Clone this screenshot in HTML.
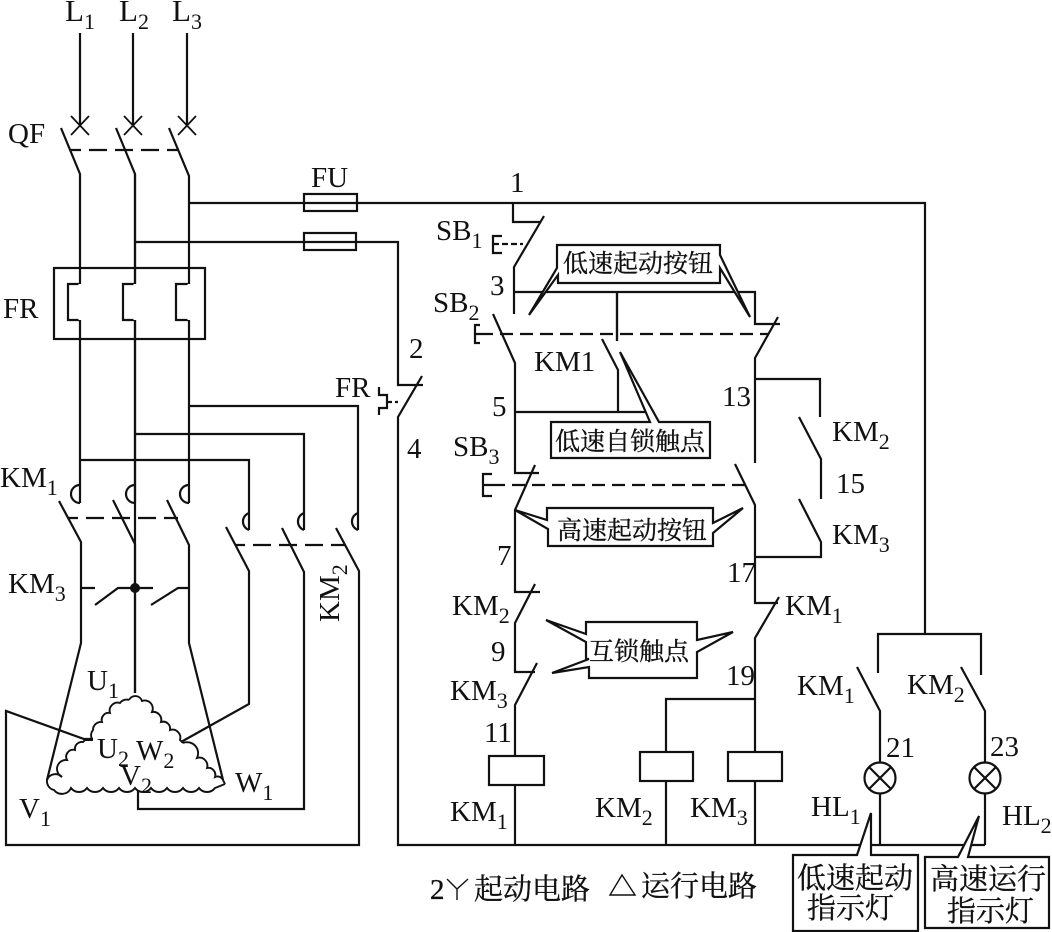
<!DOCTYPE html>
<html><head><meta charset="utf-8"><style>
html,body{margin:0;padding:0;background:#fff}
svg{display:block}
text{font-family:"Liberation Serif","Noto Serif CJK SC",serif;font-size:29px;fill:#111}
.l{font-size:31px}
.s{font-size:22px}
.c{font-family:"Liberation Serif","Noto Serif CJK SC","Noto Sans CJK SC",serif;font-size:25px;stroke:#111;stroke-width:.35px}
.b{font-family:"Liberation Serif","Noto Serif CJK SC","Noto Sans CJK SC",serif;font-size:29px;stroke:#111;stroke-width:.35px}
</style></head><body>
<svg width="1052" height="932" viewBox="0 0 1052 932" xmlns="http://www.w3.org/2000/svg">
<g fill="none" stroke="#111" stroke-width="2.2">
<!-- incoming -->
<path d="M80 33V125M133 33V125M187 33V125"/>
<path d="M71 116L89 135M89 116L71 135M124 116L142 135M142 116L124 135M178 116L196 135M196 116L178 135" stroke-width="1.8"/>
<path d="M61 128L80 174V460M116 128L135 174V693M169 128L189 176V406"/>
<path d="M189 406V503M80 460V503M135 174V503"/>
<path d="M71 150H178" stroke-dasharray="18 8" stroke-dashoffset="8"/>
<!-- fuses & control feed -->
<path d="M189 203H925V634M135 242H398V385H423M422 376L398 417V845H985"/>
<rect x="304" y="194" width="53" height="17"/>
<rect x="304" y="233" width="52" height="17"/>
<!-- FR -->
<rect x="54" y="268" width="151" height="71"/>
<path d="M80 284H68V320H80M135 284H123V320H135M189 284H176V320H189" fill="#fff"/>
<path d="M80 284V320M135 284V320M189 284V320" stroke="#fff" stroke-width="3"/>
<!-- branch to KM2 -->
<path d="M189 406H358V530M135 434H304V530M80 460H249V530"/>
<!-- hooks -->
<path d="M80 485A9 9 0 0 0 80 503M135 485A9 9 0 0 0 135 503M189 485A9 9 0 0 0 189 503M249 513A9 9 0 0 0 249 530M304 513A9 9 0 0 0 304 530M358 513A9 9 0 0 0 358 530"/>
<!-- KM1 / KM2 contacts -->
<path d="M59 501L81 542V643L47 780M113 500L135 544V693M167 500L189 545V643L223 780"/>
<path d="M226 527L249 571V704L181 742M282 528L304 572V809H138V790M336 528L359 571V845H6V711L84 739H93"/>
<path d="M68 518H178M235 545H345" stroke-dasharray="18 8" stroke-dashoffset="8"/>
<!-- KM3 star contact -->
<path d="M81 588H95M95 605L118 588H153M151 605L178 588H189"/>
<!-- motor windings -->
<g stroke-width="1.9">
<path d="M129 700A7 7 0 0 1 142 701A8 8 0 0 1 152 712A8 8 0 0 1 161 722A7 7 0 0 1 170 730A8 8 0 0 1 180 740L183 743"/>
<path d="M183 743A11 11 0 0 1 197 758A8 8 0 0 1 207 768A7 7 0 0 1 215 777A6 6 0 0 1 223 780L225 784"/>
<path d="M225 784L215 788A10 10 0 0 1 199 788A10 10 0 0 1 183 788A10 10 0 0 1 167 788A10 10 0 0 1 151 788A10 10 0 0 1 135 788A10 10 0 0 1 119 788A10 10 0 0 1 103 788A10 10 0 0 1 87 788A10 10 0 0 1 71 788A10 10 0 0 1 54 790A9 9 0 0 1 47 780A9 9 0 0 1 62 777"/>
<path d="M62 777A9 9 0 0 1 67 760A7 7 0 0 1 75 750A7 7 0 0 1 83 742L85 740H93"/>
<path d="M92 739A8 8 0 0 1 93 730A8 8 0 0 1 102 722A7 7 0 0 1 110 713A8 8 0 0 1 120 703A8 8 0 0 1 129 700"/>
</g>
<!-- SB1 -->
<path d="M513 203V222H540M544 216L514 267V314"/>
<path d="M502 236H493V253H502"/>
<path d="M493 244H523" stroke-dasharray="6 3"/>
<!-- horizontal 3 -->
<path d="M514 292H755V324H780M778 317L755 358V463M617 292V341"/>
<path d="M602 339L618 370V412M515 412H645"/>
<path d="M493 314L515 363V473H539M535 465L515 510V592H540M535 584L515 623V672H535M537 663L515 705V755M515 785V845"/>
<path d="M480 325H475V343H480M475 334H480"/>
<path d="M480 334H768" stroke-dasharray="13 7"/>
<path d="M492 474H483V496H492M483 485H492"/>
<path d="M492 485H747" stroke-dasharray="13 7"/>
<path d="M735 464L755 505V603H778M779 597L755 638V752M755 781V845"/>
<!-- KM2/KM3 right -->
<path d="M755 379H820V417M799 417L821 459V499M799 499L821 542V557H755"/>
<!-- coils -->
<rect x="489" y="756" width="55" height="29"/>
<rect x="640" y="752" width="53" height="29"/>
<rect x="728" y="752" width="54" height="29"/>
<path d="M755 699H666V752M666 781V845"/>
<!-- lamps -->
<path d="M878 673V634H981V675M857 667L880 711V763M880 794V845M961 667L985 711V763M985 794V845"/>
<circle cx="880" cy="778" r="15.5"/>
<circle cx="985" cy="778" r="15.5"/>
<path d="M869 767L891 789M891 767L869 789M974 767L996 789M996 767L974 789"/>
<!-- FR thermal contact -->
<path d="M379 387V395H387V408H379V415"/>
<path d="M387 402H398" stroke-dasharray="5 3"/>
<!-- callouts -->
<polygon fill="#fff" points="557,245 720,245 720,255 750,317 720,268 720,283 558,283 558,275 529,315 557,268"/>
<polygon fill="#fff" points="551,422 650,422 620,352 659,422 710,422 710,458 551,458"/>
<polygon fill="#fff" points="547,508 713,508 713,523 743,508 713,533 713,546 548,546 548,529 515,510 547,520"/>
<polygon fill="#fff" points="586,622 697,622 697,640 733,632 697,652 697,678 589,678 589,667 552,673 589,659 586,659 586,642 546,620 586,634"/>
<polygon fill="#fff" points="793,855 857,855 871,813 871,855 918,855 918,931 793,931"/>
<polygon fill="#fff" points="925,857 958,857 979,816 968,857 1049,857 1049,928 925,928"/>
</g>
<path d="M617 292V341" stroke="#111" stroke-width="2.2"/>
<circle cx="135" cy="588" r="5" fill="#111"/>
<!-- labels -->
<text class="l" x="65" y="21">L<tspan class="s" dy="8">1</tspan></text>
<text class="l" x="119" y="21">L<tspan class="s" dy="8">2</tspan></text>
<text class="l" x="172" y="21">L<tspan class="s" dy="8">3</tspan></text>
<text x="8" y="143">QF</text>
<text x="311" y="187">FU</text>
<text x="3" y="318">FR</text>
<text x="335" y="397">FR</text>
<text x="510" y="192">1</text>
<text x="409" y="358">2</text>
<text x="407" y="458">4</text>
<text x="490" y="295">3</text>
<text x="492" y="416">5</text>
<text x="497" y="565">7</text>
<text x="722" y="406">13</text>
<text x="836" y="493">15</text>
<text x="727" y="582">17</text>
<text x="491" y="661">9</text>
<text x="726" y="685">19</text>
<text x="484" y="742">11</text>
<text x="886" y="757">21</text>
<text x="990" y="756">23</text>
<text x="436" y="240">SB<tspan class="s" dy="8">1</tspan></text>
<text x="433" y="312">SB<tspan class="s" dy="8">2</tspan></text>
<text x="453" y="456">SB<tspan class="s" dy="8">3</tspan></text>
<text x="534" y="371">KM1</text>
<text x="832" y="441">KM<tspan class="s" dy="8">2</tspan></text>
<text x="832" y="544">KM<tspan class="s" dy="8">3</tspan></text>
<text x="785" y="615">KM<tspan class="s" dy="8">1</tspan></text>
<text x="452" y="615">KM<tspan class="s" dy="8">2</tspan></text>
<text x="450" y="700">KM<tspan class="s" dy="8">3</tspan></text>
<text x="797" y="695">KM<tspan class="s" dy="8">1</tspan></text>
<text x="907" y="694">KM<tspan class="s" dy="8">2</tspan></text>
<text x="450" y="821">KM<tspan class="s" dy="8">1</tspan></text>
<text x="595" y="817">KM<tspan class="s" dy="8">2</tspan></text>
<text x="690" y="817">KM<tspan class="s" dy="8">3</tspan></text>
<text x="811" y="816">HL<tspan class="s" dy="8">1</tspan></text>
<text x="1002" y="825">HL<tspan class="s" dy="8">2</tspan></text>
<text x="0" y="487">KM<tspan class="s" dy="8">1</tspan></text>
<text x="8" y="593">KM<tspan class="s" dy="8">3</tspan></text>
<text transform="translate(339,622) rotate(-90)">KM<tspan class="s" dy="8">2</tspan></text>
<text x="87" y="690">U<tspan class="s" dy="8">1</tspan></text>
<text x="97" y="758">U<tspan class="s" dy="8">2</tspan></text>
<text x="136" y="760">W<tspan class="s" dy="8">2</tspan></text>
<text x="120" y="785">V<tspan class="s" dy="8">2</tspan></text>
<text x="235" y="792">W<tspan class="s" dy="8">1</tspan></text>
<text x="19" y="818">V<tspan class="s" dy="8">1</tspan></text>
<text class="c" x="563" y="272">低速起动按钮</text>
<text class="c" x="555" y="450">低速自锁触点</text>
<text class="c" x="557" y="539">高速起动按钮</text>
<text class="c" x="589" y="660">互锁触点</text>
<text class="b" x="430" y="899">2</text>
<path d="M447 879L457 889L468 879M457 889V900" fill="none" stroke="#111" stroke-width="1.4"/>
<text class="b" x="474" y="899">起动电路</text>
<path d="M622 875L635 895H610Z" fill="none" stroke="#111" stroke-width="1.4"/>
<text class="b" x="641" y="896">运行电路</text>
<text class="b" x="797" y="888">低速起动</text>
<text class="b" x="807" y="918">指示灯</text>
<text class="b" x="930" y="889">高速运行</text>
<text class="b" x="947" y="921">指示灯</text>
</svg>
</body></html>
